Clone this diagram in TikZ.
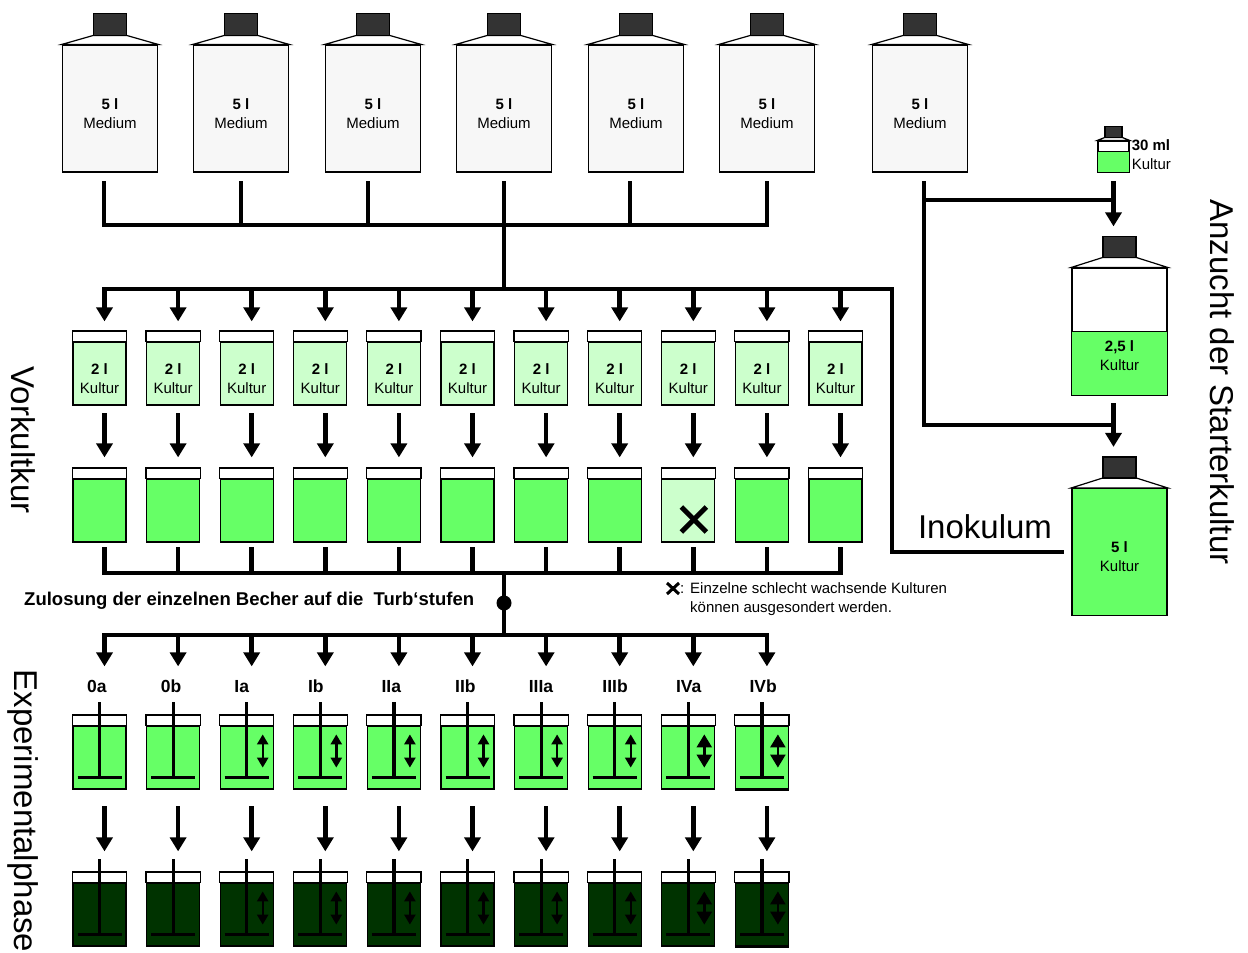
\documentclass[tikz,border=0pt]{standalone}
\usepackage{fontspec}
\setmainfont{Liberation Sans}
\usetikzlibrary{arrows.meta}
\definecolor{kultgruen}{HTML}{66FF66}
\definecolor{hellgruen}{HTML}{CCFFCC}
\definecolor{dunkelgruen}{HTML}{003300}
\definecolor{deckel}{HTML}{333333}
\definecolor{flaschengrau}{HTML}{F7F7F7}
\newcommand{\etikettfont}{\fontsize{15}{19}\selectfont}
\newcommand{\grossfont}{\fontsize{33}{33}\selectfont}
\newcommand{\tiefer}{\rule{0pt}{21pt}}
\tikzset{
  pipe/.style={line width=4.5pt, line cap=rect},
  flow/.style={pipe, -{Triangle[width=16pt,length=14pt]}},
  rand/.style={line width=1.2pt},
  flasche/.style={draw, rand, fill=flaschengrau, minimum width=95pt, minimum height=127pt, inner sep=0pt, align=center, font=\etikettfont},
  becher/.style={draw, rand, minimum width=53pt, minimum height=63pt, inner sep=0pt, align=center, font=\etikettfont},
  ruehrer/.style={line width=3.2pt},
  hub/.style={line width=2.4pt, {Triangle[width=11pt,length=10pt]}-{Triangle[width=11pt,length=10pt]}},
  hubgross/.style={line width=2.4pt, {Triangle[width=15pt,length=13pt]}-{Triangle[width=15pt,length=13pt]}},
  kreuz/.style={line width=5pt},
  seitentitel/.style={font=\grossfont, rotate=-90, inner sep=0pt},
  stufe/.style={font=\fontsize{17.5}{20}\selectfont\bfseries, inner sep=0pt, anchor=base west},
  punkt/.style={circle, fill=black, minimum size=15pt, inner sep=0pt},
}
\begin{document}
\begin{tikzpicture}[x=1pt,y=-1pt]
\useasboundingbox (0,0) rectangle (1248,953);

% Mediumflaschen
\foreach \x [count=\i] in {110,241,373,504,636,767,920} {
  \node[flasche] (b\i) at (\x,108.5) {\tiefer\textbf{5 l}\\Medium};
  \draw[rand,fill=white] (b\i.north west) -- ([xshift=-16.5pt,yshift=9pt]b\i.north) -- ([xshift=16.5pt,yshift=9pt]b\i.north) -- (b\i.north east) -- cycle;
  \draw[rand,fill=deckel] ([xshift=-16.5pt,yshift=9pt]b\i.north) rectangle ([xshift=16.5pt,yshift=31pt]b\i.north);
}
\foreach \x [count=\i] in {104,241,368,504,630,767}
  \coordinate (s\i) at (\x,225);
\foreach \i in {1,...,6}
  \draw[pipe] (s\i |- b\i.south) ++(0,11) -- (s\i);
\draw[pipe] (s1) -- (s6);
\coordinate (verteil) at (504,289);
\draw[pipe] (s4) -- (verteil);

% Vorkultur
\foreach \i in {1,...,11} {
  \pgfmathsetmacro{\cx}{99.5+73.6*(\i-1)}
  \ifnum\i=9 \def\farbe{hellgruen}\else\def\farbe{kultgruen}\fi
  \coordinate (v\i) at (\cx+5,289);
  \coordinate (c\i) at (\cx+5,573);
  \node[becher,fill=hellgruen] (k\i) at (\cx,373.5) {\tiefer\textbf{2 l}\\Kultur};
  \draw[rand,fill=white] (k\i.north west) rectangle ([yshift=10.5pt]k\i.north east);
  \node[becher,fill=\farbe] (g\i) at (\cx,510.5) {};
  \draw[rand,fill=white] (g\i.north west) rectangle ([yshift=10.5pt]g\i.north east);
  \draw[flow] (v\i) -- ([xshift=5pt,yshift=20pt]k\i.north);
  \draw[flow] ([xshift=5pt,yshift=-10pt]k\i.south) -- ([xshift=5pt,yshift=21pt]g\i.north);
  \draw[pipe] (c\i |- g\i.south) ++(0,7) -- (c\i);
}
\draw[kreuz] ([xshift=-7pt,yshift=3.5pt]g9.center) -- ([xshift=18pt,yshift=-21.5pt]g9.center);
\draw[kreuz] ([xshift=-7pt,yshift=-21.5pt]g9.center) -- ([xshift=18pt,yshift=3.5pt]g9.center);
\draw[pipe] (c1) -- (c11);
\coordinate (sam2) at (504,573);
\coordinate (expverteil) at (504,635);
\draw[pipe] (sam2) -- (expverteil);
\node[punkt] (knoten) at (504,603) {};
\node[font=\fontsize{18.5}{20}\selectfont\bfseries, anchor=west, inner sep=0pt] (zulosung) at (24,601) {Zulosung der einzelnen Becher auf die\ \ Turb‘stufen};

% Hinweis
\draw[line width=3pt] (667,583) -- (679,594) (667,594) -- (679,583);
\node[font=\etikettfont, anchor=base west, inner sep=0pt] (doppelpunkt) at (680,593) {:};
\node[font=\etikettfont, anchor=north west, align=left, inner sep=0pt] (hinweis) at (690,582) {Einzelne schlecht wachsende Kulturen\\können ausgesondert werden.};

% Experimentalphase
\foreach \st [count=\i] in {0a,0b,Ia,Ib,IIa,IIb,IIIa,IIIb,IVa,IVb} {
  \pgfmathsetmacro{\cx}{99.5+73.6*(\i-1)}
  \coordinate (e\i) at (\cx+5,635);
  \node[becher,fill=kultgruen] (x\i) at (\cx,757.5) {};
  \draw[rand,fill=white] (x\i.north west) rectangle ([yshift=10.5pt]x\i.north east);
  \node[stufe] (l\i) at (\cx-12.5,692) {\st};
  \draw[flow] (e\i) -- ([xshift=5pt,yshift=59pt]x\i.north);
  \node[becher,fill=dunkelgruen] (d\i) at (\cx,914.5) {};
  \draw[rand,fill=white] (d\i.north west) rectangle ([yshift=10.5pt]d\i.north east);
  \draw[flow] ([xshift=5pt,yshift=-19pt]x\i.south) -- ([xshift=5pt,yshift=31pt]d\i.north);
  \foreach \b in {x\i,d\i} {
    \draw[ruehrer] ([yshift=23pt]\b.north) -- ([yshift=12pt]\b.south);
    \draw[ruehrer] ([xshift=-22pt,yshift=12pt]\b.south) -- ([xshift=22pt,yshift=12pt]\b.south);
    \ifnum\i>8
      \draw[hubgross] ([xshift=16pt,yshift=-9pt]\b.north) -- ([xshift=16pt,yshift=22pt]\b.south);
    \else\ifnum\i>2
      \draw[hub] ([xshift=16pt,yshift=-9pt]\b.north) -- ([xshift=16pt,yshift=22pt]\b.south);
    \fi\fi
  }
}
\draw[pipe] (e1) -- (e10);
\draw[line width=3pt] (x10.south west) -- (x10.south east);
\draw[line width=3pt] (d10.south west) -- (d10.south east);

% Starterkultur
\node[draw,rand,fill=white,minimum size=31pt,inner sep=0pt] (flask30) at (1113.5,156.5) {};
\draw[rand,fill=kultgruen] ([yshift=-11pt]flask30.north west) rectangle (flask30.south east);
\draw[rand,fill=white] (flask30.north west) -- ([xshift=-8.5pt,yshift=3pt]flask30.north) -- ([xshift=8.5pt,yshift=3pt]flask30.north) -- (flask30.north east) -- cycle;
\draw[rand,fill=deckel] ([xshift=-8.5pt,yshift=3pt]flask30.north) rectangle ([xshift=8.5pt,yshift=14pt]flask30.north);
\node[font=\etikettfont, align=left, anchor=west, inner sep=0pt] (t30) at ([xshift=2pt,yshift=2pt]flask30.east) {\textbf{30 ml}\\Kultur};

\node[flasche,fill=white] (kult25) at (1119.5,331.5) {};
\draw[rand,fill=kultgruen] ([yshift=-64pt]kult25.north west) rectangle (kult25.south east);
\node[font=\etikettfont, align=center] (t25) at ([yshift=-24.5pt]kult25.center) {\textbf{2,5 l}\\Kultur};
\node[flasche,fill=kultgruen] (kult5) at (1119.5,552) {\tiefer\textbf{5 l}\\Kultur};
\foreach \f in {kult25,kult5} {
  \draw[rand,fill=white] (\f.north west) -- ([xshift=-16.5pt,yshift=10pt]\f.north) -- ([xshift=16.5pt,yshift=10pt]\f.north) -- (\f.north east) -- cycle;
  \draw[rand,fill=deckel] ([xshift=-16.5pt,yshift=10pt]\f.north) rectangle ([xshift=16.5pt,yshift=31pt]\f.north);
}
\coordinate (r1) at (924,200);
\coordinate (r2) at (924,425);
\draw[pipe] (r1 |- b7.south) ++(0,11) -- (r2);
\draw[pipe] (r1) -- (r1 -| flask30.south);
\draw[pipe] (r2) -- (r2 -| flask30.south);
\draw[flow] ([yshift=-11pt]flask30.south) -- ([xshift=-6pt,yshift=41pt]kult25.north);
\draw[flow] ([xshift=-6pt,yshift=-10pt]kult25.south) -- ([xshift=-6pt,yshift=41pt]kult5.north);

% Verteilung und Inokulum
\coordinate (ecke) at (892,289);
\draw[pipe,line join=miter] (v1) -- (ecke) |- ([xshift=-10pt]kult5.west);
\node[font=\grossfont, inner sep=0pt] (inok) at (985,527) {Inokulum};

% Seitentitel
\node[seitentitel] (vork) at (23,440) {Vorkultkur};
\node[seitentitel] (expph) at (23,811) {Experimentalphase};
\node[seitentitel] (anzucht) at (1222,382) {Anzucht der Starterkultur};
\end{tikzpicture}
\end{document}
